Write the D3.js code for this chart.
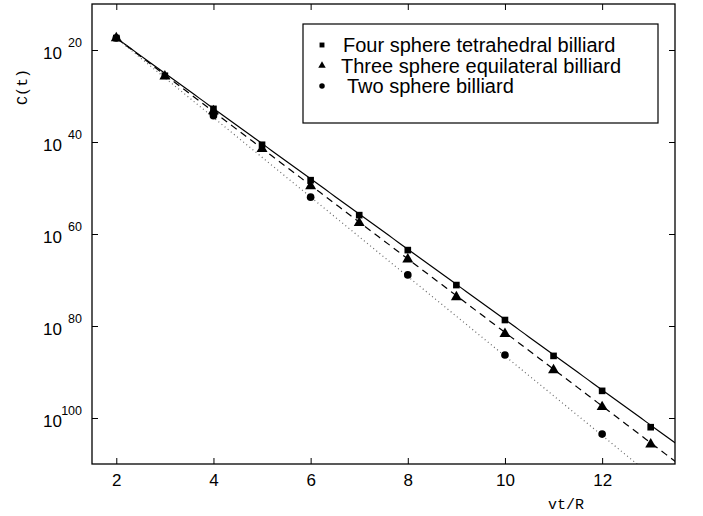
<!DOCTYPE html>
<html>
<head>
<meta charset="utf-8">
<script src="https://cdn.jsdelivr.net/npm/d3@7"></script>
<style>
  body { margin: 0; background: #fff; overflow: hidden; }
  svg { display: block; }
  text { font-family: "Liberation Sans", Arial, sans-serif; fill: #000; }
  .mono { font-family: "Liberation Mono", "Courier New", monospace; }
</style>
</head>
<body>
<div id="chart"></div>
<script>
// Data: log10 of C(t) at each vt/R
var seriesNames = ["Four sphere tetrahedral billiard", "Three sphere equilateral billiard", "Two sphere billiard"];
var fourX = [2, 3, 4, 5, 6, 7, 8, 9, 10, 11, 12, 13];
var fourLogC = [-17.4, -25.6, -32.8, -40.6, -48.3, -55.9, -63.5, -71.1, -78.7, -86.5, -94.1, -102.0];
var threeX = [2, 3, 4, 5, 6, 7, 8, 9, 10, 11, 12, 13];
var threeLogC = [-17.4, -25.7, -33.3, -41.5, -49.6, -57.6, -65.5, -73.7, -81.7, -89.6, -97.6, -105.7];
var twoX = [2, 4, 6, 8, 10, 12];
var twoLogC = [-17.4, -34.3, -52.0, -68.9, -86.3, -103.5];

// fitted straight lines (log10 C = a + b * (x - 2))
var fitStart = [2, 2, 2];
var fitIntercept = [-17.4, -17.4, -17.4];
var fitSlope = [-7.65, -8.0, -8.64];

var xTicks = [2, 4, 6, 8, 10, 12];
var yTickExp = [20, 40, 60, 80, 100];

var svgWidth = 703;
var svgHeight = 516;
var margin = { top: 4, right: 28, bottom: 52, left: 92 };
var chartWidth = svgWidth - margin.left - margin.right;
var chartHeight = svgHeight - margin.top - margin.bottom;

var svg = d3.select("#chart")
  .append("svg")
  .attr("width", svgWidth)
  .attr("height", svgHeight);

var chartGroup = svg.append("g")
  .attr("transform", `translate(${margin.left}, ${margin.top})`);

var xScale = d3.scaleLinear()
  .domain([1.5, 13.5])
  .range([0, chartWidth]);

var yScale = d3.scaleLog()
  .domain([1e-110, 1e-10])
  .range([chartHeight, 0]);

var yTicks = yTickExp.map(e => Math.pow(10, -e));

// clip for the fit lines
chartGroup.append("clipPath")
  .attr("id", "plotClip")
  .append("rect")
  .attr("width", chartWidth)
  .attr("height", chartHeight);

// fit lines
var styles = [
  { dash: null, color: "#000", width: 1.2 },
  { dash: "7,5", color: "#000", width: 1.2 },
  { dash: "1,3", color: "#666", width: 1.2 }
];

var line = d3.line()
  .x(d => xScale(d[0]))
  .y(d => yScale(Math.pow(10, d[1])));

fitSlope.forEach(function(b, i) {
  var pts = [];
  for (var x = fitStart[i]; x <= 13.6; x += 0.1) {
    pts.push([x, fitIntercept[i] + b * (x - fitStart[i])]);
  }
  chartGroup.append("path")
    .datum(pts)
    .attr("d", line)
    .attr("fill", "none")
    .attr("stroke", styles[i].color)
    .attr("stroke-width", styles[i].width)
    .attr("stroke-dasharray", styles[i].dash)
    .attr("clip-path", "url(#plotClip)");
});

// markers
var symbols = [d3.symbolSquare, d3.symbolTriangle, d3.symbolCircle];
var sizes = [44, 52, 46];
var allSeries = [
  fourX.map((x, i) => [x, fourLogC[i]]),
  threeX.map((x, i) => [x, threeLogC[i]]),
  twoX.map((x, i) => [x, twoLogC[i]])
];

allSeries.forEach(function(data, i) {
  chartGroup.append("g")
    .selectAll("path")
    .data(data)
    .enter()
    .append("path")
    .attr("d", d3.symbol().type(symbols[i]).size(sizes[i]))
    .attr("transform", d => `translate(${xScale(d[0])}, ${yScale(Math.pow(10, d[1]))})`)
    .attr("fill", "#000");
});

// axes: ticks inward on all four sides
var tick = 6;
var bottomAxis = d3.axisBottom(xScale).tickValues(xTicks).tickSizeInner(-tick).tickSizeOuter(0).tickPadding(10);
var topAxis = d3.axisTop(xScale).tickValues(xTicks).tickSizeInner(-tick).tickSizeOuter(0).tickFormat("");
var leftAxis = d3.axisLeft(yScale).tickValues(yTicks).tickSizeInner(-tick).tickSizeOuter(0).tickFormat("");
var rightAxis = d3.axisRight(yScale).tickValues(yTicks).tickSizeInner(-tick).tickSizeOuter(0).tickFormat("");

var gBottom = chartGroup.append("g")
  .attr("transform", `translate(0, ${chartHeight})`)
  .call(bottomAxis);
chartGroup.append("g").call(topAxis);
var gLeft = chartGroup.append("g").call(leftAxis);
chartGroup.append("g").attr("transform", `translate(${chartWidth}, 0)`).call(rightAxis);

chartGroup.selectAll(".domain").remove();
chartGroup.selectAll(".tick line").attr("stroke", "#000").attr("stroke-width", 1);

gBottom.selectAll(".tick text")
  .attr("font-family", "Liberation Sans, Arial, sans-serif")
  .attr("font-size", "17px")
  .attr("fill", "#000");

// y tick labels as 10 with a raised exponent
gLeft.selectAll(".tick").each(function(d, i) {
  var g = d3.select(this);
  g.append("text")
    .attr("x", -30)
    .attr("y", 8)
    .attr("text-anchor", "end")
    .attr("font-size", "17px")
    .attr("fill", "#000")
    .text("10");
  g.append("text")
    .attr("x", -10)
    .attr("y", -4)
    .attr("text-anchor", "end")
    .attr("font-size", "12.5px")
    .attr("fill", "#000")
    .text(yTickExp[i]);
});

// plot frame
chartGroup.append("rect")
  .attr("width", chartWidth)
  .attr("height", chartHeight)
  .attr("fill", "none")
  .attr("stroke", "#000")
  .attr("stroke-width", 1.3);

// axis labels
svg.append("text")
  .attr("class", "mono")
  .attr("transform", "translate(27, 87) rotate(-90)")
  .attr("text-anchor", "middle")
  .attr("font-size", "15px")
  .text("C(t)");

svg.append("text")
  .attr("class", "mono")
  .attr("x", 566)
  .attr("y", 509)
  .attr("text-anchor", "middle")
  .attr("font-size", "15px")
  .text("vt/R");

// legend
var legend = svg.append("g");
legend.append("rect")
  .attr("x", 303)
  .attr("y", 24)
  .attr("width", 355)
  .attr("height", 99)
  .attr("fill", "#fff")
  .attr("stroke", "#000")
  .attr("stroke-width", 1.2);

var legendTextX = [343, 341, 347];
seriesNames.forEach(function(name, i) {
  var cy = 45 + i * 20.5;
  legend.append("path")
    .attr("d", d3.symbol().type(symbols[i]).size(24))
    .attr("transform", `translate(322, ${cy})`)
    .attr("fill", "#000");
  legend.append("text")
    .attr("x", legendTextX[i])
    .attr("y", cy + 7)
    .attr("font-size", "20px")
    .text(name);
});
</script>
</body>
</html>
